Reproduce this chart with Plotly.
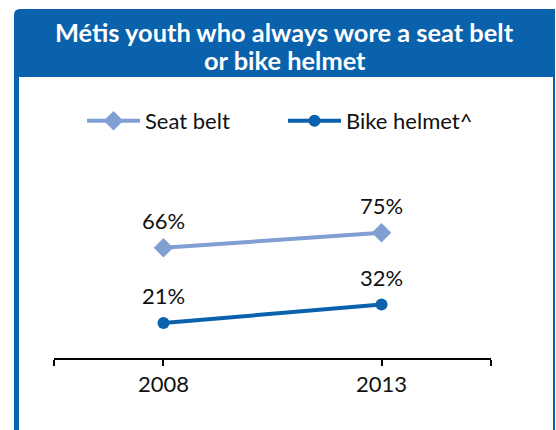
import plotly.graph_objects as go

# data
years = [2008, 2013]
seat_belt = [66, 75]
bike_helmet = [21, 32]
series_names = ["Seat belt", "Bike helmet^"]
title_lines = ["Métis youth who always wore a seat belt", "or bike helmet"]

BLUE = "#0A62AC"
LIGHT = "#809FD3"
FONT = "Lato"
TXT = "#111111"

W, H = 556, 430
L, R, T, B = 54, 65, 191, 72
PW, PH = W - L - R, H - T - B


def px(x):
    return (x - L) / PW


def py(y):
    return (H - B - y) / PH


fig = go.Figure()
for name, vals, sym, size, color in [
    (series_names[0], seat_belt, "diamond", 15, LIGHT),
    (series_names[1], bike_helmet, "circle", 12, BLUE),
]:
    fig.add_trace(go.Scatter(
        x=years, y=vals, name=name, mode="lines+markers",
        line=dict(color=color, width=4),
        marker=dict(symbol=sym, size=size, color=color),
        cliponaxis=False,
    ))
    # value labels above each point
    for xv, yv in zip(years, vals):
        fig.add_annotation(
            x=xv, y=yv, text=f"{yv}%", showarrow=False,
            yshift=27, yanchor="middle",
            font=dict(family=FONT, size=22, color=TXT),
        )

# blue frame: left border + header with rounded top-left corner, thin right border
frame = (
    f"M {px(14)},{py(432)} L {px(14)},{py(15)} "
    f"Q {px(14)},{py(9)} {px(20)},{py(9)} "
    f"L {px(555)},{py(9)} L {px(555)},{py(432)} L {px(553)},{py(432)} "
    f"L {px(553)},{py(77)} L {px(19)},{py(77)} L {px(19)},{py(432)} Z"
)
fig.add_shape(type="path", path=frame, xref="paper", yref="paper",
              fillcolor=BLUE, line=dict(width=0), layer="below")

# title, two lines in the header
for line, yc in zip(title_lines, [32, 60]):
    fig.add_annotation(
        x=px(284.5), y=py(yc), xref="paper", yref="paper",
        text=line, showarrow=False, xanchor="center", yanchor="middle",
        font=dict(family=FONT, size=25.4, color="white", weight="bold"),
    )

fig.update_layout(
    width=W, height=H,
    margin=dict(l=L, r=R, t=T, b=B),
    paper_bgcolor="white", plot_bgcolor="white",
    showlegend=True,
    legend=dict(
        orientation="h", x=px(82), y=py(121), xanchor="left", yanchor="middle",
        font=dict(family=FONT, size=22, color=TXT),
        itemwidth=53, entrywidth=133, bgcolor="rgba(0,0,0,0)",
    ),
    xaxis=dict(
        range=[2005.49, 2015.51],
        tickvals=[2005.5, 2008, 2013, 2015.5],
        ticktext=["", "2008", "2013", ""],
        ticks="outside", ticklen=6, tickwidth=2, tickcolor="black",
        showline=True, linecolor="black", linewidth=2,
        showgrid=False, zeroline=False,
        tickfont=dict(family=FONT, size=22, color=TXT),
        fixedrange=True,
    ),
    yaxis=dict(
        range=[0, 100], visible=False, showgrid=False, zeroline=False,
        fixedrange=True,
    ),
)

# drop the page's default body margin so the figure sits at the window origin
fig.write_html(
    "out.html",
    config={"displayModeBar": False},
    post_script="document.body.style.margin='0';",
)
